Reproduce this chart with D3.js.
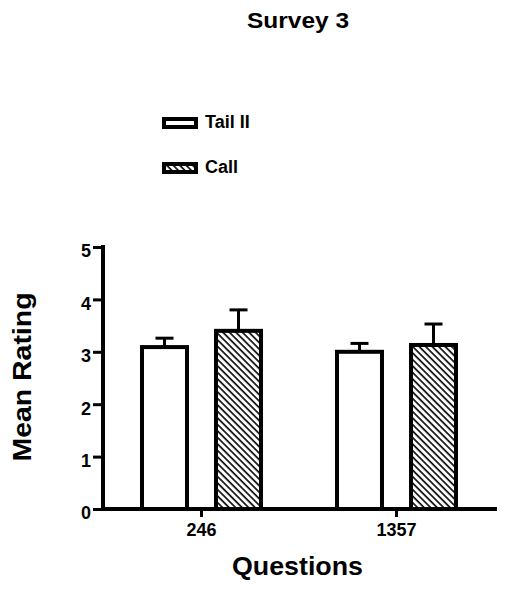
<!DOCTYPE html>
<html>
<head>
<meta charset="utf-8">
<script src="https://cdn.jsdelivr.net/npm/d3@7"></script>
<style>
  body { margin: 0; background: #fff; }
  svg { display: block; font-family: "Liberation Sans", Arial, sans-serif; font-weight: bold; }
</style>
</head>
<body>
<script>
// chart data
const questions = ['246', '1357'];
const seriesNames = ['Tail II', 'Call'];
const tailMeans = [3.09, 3.0];
const tailErrors = [0.17, 0.16];
const callMeans = [3.4, 3.13];
const callErrors = [0.4, 0.4];
const yTicks = [0, 1, 2, 3, 4, 5];

const width = 509, height = 593;

const svg = d3.select('body').append('svg')
  .attr('width', width)
  .attr('height', height);

// hatch pattern for the Call series
const defs = svg.append('defs');
defs.append('pattern')
  .attr('id', 'hatch')
  .attr('patternUnits', 'userSpaceOnUse')
  .attr('width', 4.6)
  .attr('height', 10)
  .attr('patternTransform', 'rotate(-45)')
  .append('line')
  .attr('x1', 1).attr('y1', 0)
  .attr('x2', 1).attr('y2', 10)
  .attr('stroke', '#000')
  .attr('stroke-width', 1.6);

// scales
const x0 = d3.scaleBand().domain(questions).range([104, 494]).padding(0);
const x1 = d3.scaleBand().domain(seriesNames).range([-59.5, 59.5]).paddingInner(0.392).paddingOuter(0);
const y = d3.scaleLinear().domain([0, 5]).range([509, 247]);

const rows = questions.map((q, i) => ({
  q,
  values: [
    { name: seriesNames[0], mean: tailMeans[i], err: tailErrors[i] },
    { name: seriesNames[1], mean: callMeans[i], err: callErrors[i] }
  ]
}));

const fillFor = name => name === 'Call' ? 'url(#hatch)' : '#fff';

// bars
const groups = svg.selectAll('.group')
  .data(rows)
  .enter().append('g')
  .attr('class', 'group')
  .attr('transform', d => `translate(${x0(d.q) + x0.bandwidth() / 2},0)`);

// error bars (upper only)
groups.selectAll('.err')
  .data(d => d.values)
  .enter().append('g')
  .attr('class', 'err')
  .each(function(d) {
    const cx = x1(d.name) + x1.bandwidth() / 2;
    const g = d3.select(this);
    g.append('line')
      .attr('x1', cx).attr('x2', cx)
      .attr('y1', y(d.mean)).attr('y2', y(d.mean + d.err))
      .attr('stroke', '#000').attr('stroke-width', 3);
    g.append('line')
      .attr('x1', cx - 9).attr('x2', cx + 9)
      .attr('y1', y(d.mean + d.err)).attr('y2', y(d.mean + d.err))
      .attr('stroke', '#000').attr('stroke-width', 3);
  });

groups.selectAll('rect')
  .data(d => d.values)
  .enter().append('rect')
  .attr('x', d => x1(d.name))
  .attr('width', x1.bandwidth())
  .attr('y', d => y(d.mean))
  .attr('height', d => y(0) - y(d.mean))
  .attr('fill', d => fillFor(d.name))
  .attr('stroke', '#000')
  .attr('stroke-width', 4);

// axes
const yAxis = svg.append('g')
  .attr('transform', 'translate(103,0)')
  .call(d3.axisLeft(y).tickValues(yTicks).tickFormat(d3.format('d')).tickSize(10).tickPadding(2));
yAxis.select('.domain').remove();
yAxis.selectAll('.tick line').attr('stroke', '#000').attr('stroke-width', 3);
yAxis.selectAll('.tick text')
  .attr('dy', '0.55em')
  .attr('fill', '#000')
  .style('font-size', '18px')
  .style('font-family', '"Liberation Sans", Arial, sans-serif')
  .style('font-weight', 'bold');

const xAxis = svg.append('g')
  .attr('transform', 'translate(0,509)')
  .call(d3.axisBottom(x0).tickSize(8).tickPadding(6));
xAxis.select('.domain').remove();
xAxis.selectAll('.tick line').attr('stroke', '#000').attr('stroke-width', 3);
xAxis.selectAll('.tick text')
  .attr('fill', '#000')
  .style('font-size', '18px')
  .style('font-family', '"Liberation Sans", Arial, sans-serif')
  .style('font-weight', 'bold');

// axis lines
svg.append('line')
  .attr('x1', 103).attr('x2', 103)
  .attr('y1', y(5) - 2).attr('y2', y(0) + 2)
  .attr('stroke', '#000').attr('stroke-width', 4);
svg.append('line')
  .attr('x1', 101).attr('x2', 497)
  .attr('y1', y(0)).attr('y2', y(0))
  .attr('stroke', '#000').attr('stroke-width', 4);

// titles
svg.append('text')
  .attr('x', 298).attr('y', 28)
  .attr('text-anchor', 'middle')
  .attr('textLength', 102).attr('lengthAdjust', 'spacingAndGlyphs')
  .style('font-size', '22px')
  .text('Survey 3');

svg.append('text')
  .attr('x', 297.5).attr('y', 575)
  .attr('text-anchor', 'middle')
  .attr('textLength', 131).attr('lengthAdjust', 'spacingAndGlyphs')
  .style('font-size', '25px')
  .text('Questions');

svg.append('text')
  .attr('transform', 'translate(31,377) rotate(-90)')
  .attr('text-anchor', 'middle')
  .attr('textLength', 169).attr('lengthAdjust', 'spacingAndGlyphs')
  .style('font-size', '25px')
  .text('Mean Rating');

// legend
const legend = svg.selectAll('.legend')
  .data(seriesNames)
  .enter().append('g')
  .attr('class', 'legend')
  .attr('transform', (d, i) => `translate(164,${119 + i * 45})`);

legend.append('rect')
  .attr('width', 32).attr('height', 8)
  .attr('fill', d => fillFor(d))
  .attr('stroke', '#000')
  .attr('stroke-width', 4);

legend.append('text')
  .attr('x', 41).attr('y', 9)
  .style('font-size', '18px')
  .text(d => d);
</script>
</body>
</html>
